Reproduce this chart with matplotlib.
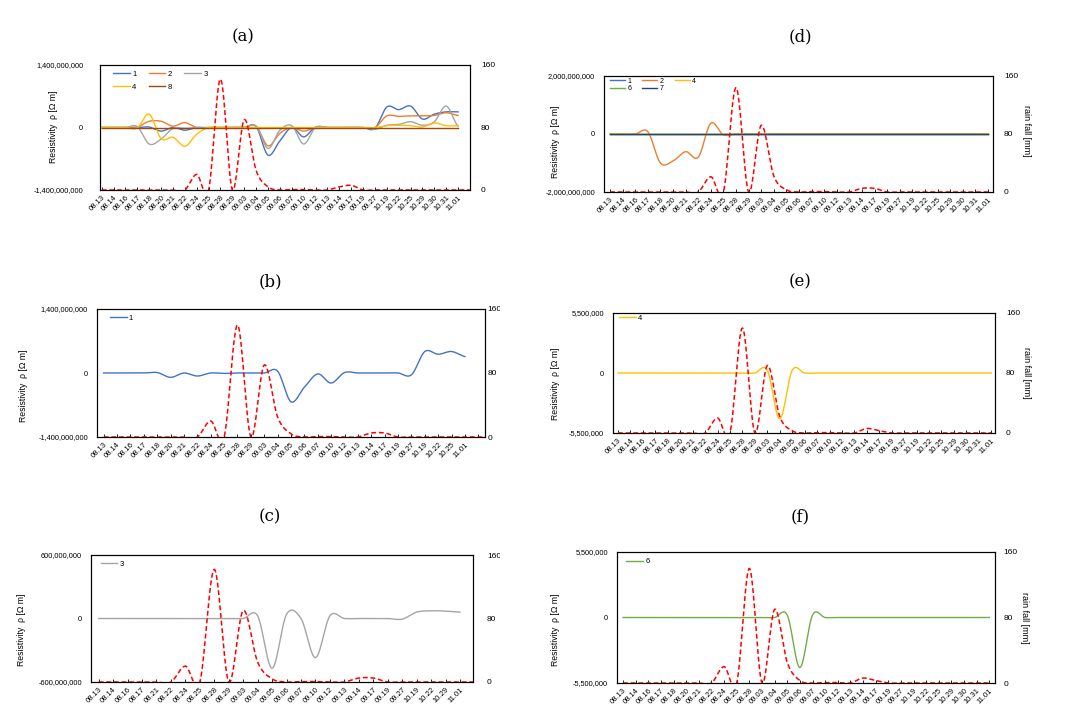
import numpy as np
import matplotlib
matplotlib.use('Agg')
import matplotlib.pyplot as plt
from matplotlib.patches import Rectangle

plt.rcParams['font.family'] = ['Liberation Sans', 'DejaVu Sans']

W, H = 1069, 728

# ---------------- data ----------------
cats_a = ['08.13', '08.14', '08.16', '08.17', '08.18', '08.20', '08.21', '08.22', '08.24', '08.25',
          '08.28', '08.29', '09.03', '09.04', '09.05', '09.06', '09.07', '09.10', '09.12', '09.13',
          '09.14', '09.17', '09.19', '09.27', '10.19', '10.22', '10.25', '10.29', '10.30', '10.31',
          '11.01', '']
rain_a = [0, 0, 0, 0, 0, 0, 0, 0, 20, 0, 142, 0, 90, 25, 4, 0, 0.5, 0.5, 0, 0,
          4, 6, 0, 0, 0, 0, 0, 0, 0, 0, 0, 0]
a_s1 = [0, 0, 0, 0, 0.01e9, -0.08e9, 0, -0.06e9, 0, -0.01e9, 0, 0, 0, 0.02e9, -0.62e9, -0.30e9,
        0, -0.21e9, 0.01e9, 0, 0, 0, 0, -0.02e9, 0.46e9, 0.40e9, 0.48e9, 0.19e9, 0.30e9, 0.35e9, 0.35e9]
a_s2 = [0, 0, 0, 0.01e9, 0.14e9, 0.14e9, 0.03e9, 0.11e9, 0, 0, 0, 0, 0, 0.03e9, -0.41e9, -0.13e9,
        0, -0.08e9, 0, 0, 0, 0, 0, 0, 0.26e9, 0.25e9, 0.26e9, 0.26e9, 0.27e9, 0.33e9, 0.27e9]
a_s3 = [0, 0, 0, 0.02e9, -0.37e9, -0.26e9, -0.02e9, -0.02e9, 0, 0, 0, 0, 0, 0.03e9, -0.47e9, -0.06e9,
        0.04e9, -0.37e9, 0, 0, 0, 0, 0, -0.04e9, 0.05e9, 0.07e9, 0.13e9, 0.05e9, 0.13e9, 0.48e9, 0.03e9]
a_s4 = [0, 0, 0, -0.01e9, 0.30e9, -0.25e9, -0.22e9, -0.42e9, -0.15e9, 0, 0, 0, 0, 0, 0, 0,
        0, 0, 0, 0, 0, 0, 0, 0, 0.04e9, 0.05e9, 0.04e9, 0.01e9, 0.10e9, 0.04e9, 0.04e9]
a_s8 = [0] * 31

cats_b = ['08.13', '08.14', '08.16', '08.17', '08.18', '08.20', '08.21', '08.22', '08.24', '08.25',
          '08.28', '08.29', '09.03', '09.04', '09.05', '09.06', '09.07', '09.10', '09.12', '09.13',
          '09.14', '09.17', '09.19', '09.27', '10.19', '10.22', '10.25', '11.01', '', '']
rain_b = [0, 0, 0, 0, 0, 0, 0, 0, 20, 0, 140, 0, 90, 25, 4, 0, 0.5, 0.5, 0, 0,
          5, 5, 0, 0, 0, 0, 0, 0, 0, 0]
b_s1 = [0, 0, 0, 0, 0.01e9, -0.095e9, 0, -0.066e9, 0, -0.01e9, 0, 0, 0, 0.04e9, -0.63e9, -0.31e9,
        -0.02e9, -0.22e9, 0.01e9, 0, 0, 0, 0, -0.04e9, 0.47e9, 0.41e9, 0.47e9, 0.36e9]

cats_c = ['08.13', '08.14', '08.16', '08.17', '08.21', '08.22', '08.24', '08.25', '08.28', '08.29',
          '09.03', '09.04', '09.05', '09.06', '09.07', '09.10', '09.12', '09.13', '09.14', '09.17',
          '09.19', '09.27', '10.19', '10.22', '10.29', '11.01', '']
rain_c = [0, 0, 0, 0, 0, 0, 20, 0, 142, 0, 90, 25, 4, 0, 0.5, 0.5, 0, 0, 5, 5,
          0, 0, 0, 0, 0, 0, 0]
c_s3 = [0, 0, 0, 0, 0, 0, 0, 0, 0, 0, 0, 0.025e9, -0.47e9, 0.04e9, 0.0, -0.37e9, 0.025e9, 0,
        0, 0, 0, -0.006e9, 0.06e9, 0.073e9, 0.07e9, 0.06e9]

cats_d = ['08.13', '08.14', '08.16', '08.17', '08.18', '08.20', '08.21', '08.22', '08.24', '08.25',
          '08.28', '08.29', '09.03', '09.04', '09.05', '09.06', '09.07', '09.10', '09.12', '09.13',
          '09.14', '09.17', '09.19', '09.27', '10.19', '10.22', '10.25', '10.29', '10.30', '10.31',
          '11.01']
rain_d = [0, 0, 0, 0, 0, 0, 0, 0, 21, 0, 144, 0, 92, 22, 3, 0, 0.5, 0.5, 0, 0,
          5, 5, 0, 0, 0, 0, 0, 0, 0, 0, 0]
d_s1 = [0] * 31
d_s2 = [0, 0, 0, 0.08e9, -1.0e9, -0.93e9, -0.61e9, -0.80e9, 0.37e9, -0.03e9, 0, 0, 0, 0, 0, 0,
        0, 0, 0, 0, 0, 0, 0, 0, 0, 0, 0, 0, 0, 0, 0]
d_s4 = [0] * 31
d_s6 = [0] * 31
d_s7 = [0] * 31

cats_e = list(cats_d)
rain_e = [0, 0, 0, 0, 0, 0, 0, 0, 20, 0, 140, 0, 90, 22, 3, 0, 0.5, 0.5, 0, 0,
          6, 3, 0, 0, 0, 0, 0, 0, 0, 0, 0]
e_s4 = [0, 0, 0, 0, 0, 0, 0, 0, 0, 0, 0, 0, 0.25e6, -4.2e6, 0.25e6, 0, 0, 0, 0, 0,
        0, 0, 0, 0, 0, 0, 0, 0, 0, 0, 0]

cats_f = ['08.13', '08.14', '08.16', '08.17', '08.18', '08.20', '08.21', '08.22', '08.24', '08.25',
          '08.28', '09.03', '09.04', '09.05', '09.06', '09.07', '09.10', '09.12', '09.13', '09.14',
          '09.17', '09.19', '09.27', '10.19', '10.22', '10.25', '10.29', '10.30', '10.31', '11.01']
rain_f = [0, 0, 0, 0, 0, 0, 0, 0, 20, 0, 140, 0, 90, 25, 3, 0, 0.5, 0.5, 0, 6,
          3, 0, 0, 0, 0, 0, 0, 0, 0, 0]
f_s6 = [0, 0, 0, 0, 0, 0, 0, 0, 0, 0, 0, 0, 0, 0.2e6, -4.2e6, 0.2e6, 0, 0, 0, 0,
        0, 0, 0, 0, 0, 0, 0, 0, 0, 0]

C1, C2, C3, C4, C6, C7, C8 = '#4472C4', '#ED7D31', '#A5A5A5', '#FFC000', '#70AD47', '#264478', '#9E480E'


def smooth(y, k=24):
    y = np.asarray(y, float)
    n = len(y)
    p = np.concatenate([[y[0]], y, [y[-1]]])
    t = np.linspace(0, 1, k, endpoint=False)
    xs, ys = [], []
    for i in range(n - 1):
        p0, p1, p2, p3 = p[i], p[i + 1], p[i + 2], p[i + 3]
        seg = 0.5 * (2 * p1 + (-p0 + p2) * t + (2 * p0 - 5 * p1 + 4 * p2 - p3) * t ** 2
                     + (-p0 + 3 * p1 - 3 * p2 + p3) * t ** 3)
        xs.append(i + t)
        ys.append(seg)
    xs.append([n - 1])
    ys.append([y[-1]])
    return np.concatenate(xs), np.concatenate(ys)


fig = plt.figure(figsize=(W / 100, H / 100), dpi=100)


def fx(x):
    return x / W


def fy(y):
    return 1 - y / H


def panel(box, xlim, cats, rain, series, ymax, title_xy, title, ylab_xy, rlab_xy,
          order, ncol, leg_anchor, leg_fs=5.5, lpad=6.5, rpad=8, labelspacing=0.6):
    l, r, t, b = box
    ax = fig.add_axes([fx(l), fy(b), (r - l) / W, (b - t) / H])
    handles = {}
    for name, vals, col in series:
        xs, ys = smooth(vals)
        h, = ax.plot(xs, ys, color=col, lw=1.0, label=name)
        handles[name] = h
    ax.set_xlim(*xlim)
    ax.set_ylim(-ymax, ymax)
    ax.set_yticks([-ymax, 0, ymax])
    ax.set_yticklabels([f'{v:,.0f}' for v in (-ymax, 0, ymax)])
    ax.tick_params(axis='y', length=0, pad=lpad, labelsize=5.3)
    ax.set_xticks(range(len(cats)))
    ax.set_xticklabels(cats, rotation=45, ha='right', va='top', rotation_mode='anchor', fontsize=5.5)
    ax.tick_params(axis='x', direction='in', length=2.5, width=0.6, pad=3)
    for s in ax.spines.values():
        s.set_linewidth(0.8)
    ax2 = ax.twinx()
    xs, ys = smooth(rain)
    ax2.plot(xs, ys, color='#FF0000', lw=1.1, ls=(0, (3.2, 1.8)))
    ax2.set_ylim(0, 160)
    ax2.set_yticks([0, 80, 160])
    ax2.tick_params(axis='y', length=0, pad=rpad, labelsize=6)
    ax2.set_xlim(*xlim)
    hl = [handles[o] for o in order]
    ax.legend(hl, [h.get_label() for h in hl], ncol=ncol, loc='upper left',
              bbox_to_anchor=leg_anchor, frameon=False, fontsize=leg_fs,
              handlelength=2.2, handletextpad=0.3, columnspacing=1.6,
              borderpad=0, borderaxespad=0, labelspacing=labelspacing)
    fig.text(fx(title_xy[0]), fy(title_xy[1]), title, family='DejaVu Serif', fontsize=12,
             ha='center', va='center')
    fig.text(fx(ylab_xy[0]), fy(ylab_xy[1]), 'Resistivity  \u03c1 [\u03a9 m]', rotation=90,
             fontsize=6.2, ha='center', va='center')
    fig.text(fx(rlab_xy[0]), fy(rlab_xy[1]), 'rain fall [mm]', rotation=270,
             fontsize=6.5, ha='center', va='center')
    return ax


panel((100, 470, 65, 190), (-0.14, 31.0), cats_a, rain_a,
      [('1', a_s1, C1), ('2', a_s2, C2), ('3', a_s3, C3), ('4', a_s4, C4), ('8', a_s8, C8)],
      1.4e9, (243, 37), '(a)', (53, 127), (504, 127),
      ['1', '4', '2', '8', '3'], 3, (0.035, 0.955), lpad=12, labelspacing=0.7)

panel((97, 485, 309, 437), (-0.5, 28.5), cats_b, rain_b,
      [('1', b_s1, C1)],
      1.4e9, (270, 282), '(b)', (23, 386), (520, 373),
      ['1'], 1, (0.033, 0.955), rpad=2)

panel((91, 473, 555, 682), (-0.53, 25.9), cats_c, rain_c,
      [('3', c_s3, C3)],
      6e8, (270, 517), '(c)', (22, 630), (520, 618),
      ['3'], 1, (0.025, 0.955), rpad=10)

panel((604, 993, 76, 192), (-0.48, 30.4), cats_d, rain_d,
      [('1', d_s1, C1), ('2', d_s2, C2), ('4', d_s4, C4), ('6', d_s6, C6), ('7', d_s7, C7)],
      2e9, (800, 37), '(d)', (555, 142), (1027, 131),
      ['1', '6', '2', '7', '4'], 3, (0.015, 0.985), leg_fs=5.0, labelspacing=0.1)

panel((613, 995, 313, 433), (-0.4, 30.3), cats_e, rain_e,
      [('4', e_s4, C4)],
      5.5e6, (800, 282), '(e)', (556, 384), (1027, 373),
      ['4'], 1, (0.015, 0.985))

panel((617, 995, 552, 683), (-0.48, 29.45), cats_f, rain_f,
      [('6', f_s6, C6)],
      5.5e6, (800, 517), '(f)', (556, 630), (1024, 618),
      ['6'], 1, (0.025, 0.955), rpad=6)

# crop strip between the two columns (as in the original composite)
fig.add_artist(Rectangle((fx(500), 0), 45 / W, 1, transform=fig.transFigure,
                         facecolor='white', edgecolor='none', zorder=20))

fig.savefig('out.png', dpi=100, facecolor='white')
